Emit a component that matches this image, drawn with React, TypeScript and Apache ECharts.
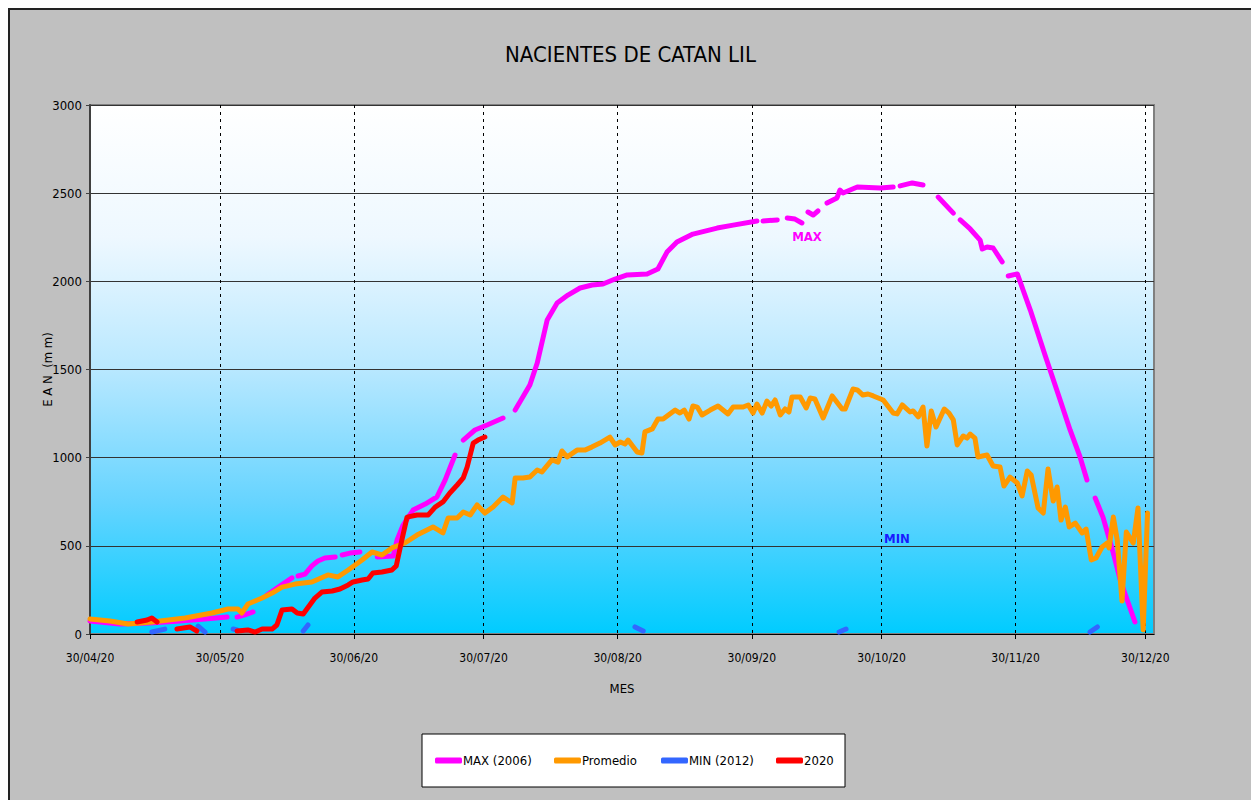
import React, { useEffect, useRef } from "react";
import * as echarts from "echarts";

const FONT = "'Liberation Sans Narrow', 'Arial Narrow', 'DejaVu Sans Condensed', Arial, sans-serif";

const TITLE = "NACIENTES DE CATAN LIL";
const X_NAME = "MES";
const Y_NAME = "E A N  (m m)";
const NAMES = ["MAX (2006)", "Promedio", "MIN (2012)", "2020"];
const COLORS = ["#FF00FF", "#FF9900", "#3366FF", "#FF0000"];

// x axis: days counted from 30/04/20 up to 01/01/21
const AXIS_START_UTC = Date.UTC(2020, 3, 30);
const AXIS_DAYS = 246;
const Y_MIN = 0;
const Y_MAX = 3000;
const Y_STEP = 500;

// each series: segments of [day offset from 30/04/20, EAN mm]; gaps = missing data
const MAX_2006: number[][][] = [
  [[0, 74], [6.9, 57], [13.9, 62], [20.8, 74], [26.6, 85], [31.7, 96]],
  [[34.0, 96], [35.8, 108], [37.7, 125]],
  [[40.9, 221], [43.9, 272], [46.7, 318]],
  [[48.1, 329], [49.7, 340], [51.3, 386], [52.7, 414], [54.3, 431], [56.7, 437]],
  [[58.3, 448], [60.1, 459], [62.4, 465]],
  [[66.4, 437], [70.1, 442], [71.0, 533], [72.4, 618], [74.7, 703], [77.5, 737], [80.2, 777], [82.1, 873], [84.4, 1015]],
  [[86.3, 1100], [89.0, 1157], [91.8, 1185], [95.5, 1225]],
  [[98.3, 1270], [101.7, 1412], [103.4, 1537], [105.7, 1781], [108.0, 1877], [110.5, 1922], [113.3, 1962], [116.1, 1979],
   [118.6, 1985], [121.4, 2013], [124.2, 2036], [128.8, 2042], [131.3, 2070], [133.4, 2166], [135.7, 2223], [139.4, 2268],
   [145.0, 2302], [148.7, 2319], [154.2, 2342]],
  [[155.6, 2342], [158.9, 2348]],
  [[161.2, 2359], [163.0, 2353], [164.6, 2331]],
  [[166.0, 2393], [167.2, 2376], [168.3, 2399]],
  [[170.4, 2444], [172.7, 2473], [173.4, 2518], [174.1, 2501], [177.4, 2535], [182.7, 2529], [185.7, 2535]],
  [[187.3, 2541], [190.1, 2558], [192.6, 2546]],
  [[196.1, 2478], [199.6, 2387]],
  [[201.2, 2348], [203.5, 2297], [205.8, 2234], [206.3, 2183], [207.4, 2195], [208.8, 2189], [210.9, 2110]],
  [[212.3, 2030], [214.4, 2042], [217.4, 1837], [220.8, 1582], [224.3, 1327], [226.6, 1157], [228.9, 1004], [230.5, 873]],
  [[232.4, 771], [234.2, 663], [236.6, 459], [238.2, 306], [239.8, 193], [241.6, 68]],
];

const PROMEDIO: number[][][] = [
  [[0, 85], [4.6, 74], [8.8, 57], [14.3, 68], [22.0, 91], [28.2, 119], [31.9, 142], [34.2, 142], [35.1, 119], [36.5, 170],
   [39.8, 204], [42.1, 232], [44.4, 266], [47.4, 283], [51.3, 295], [55.0, 335], [57.3, 323], [59.7, 363], [62.9, 420],
   [65.2, 465], [67.5, 448], [69.8, 488], [72.8, 516], [75.6, 561], [79.3, 607], [81.6, 573], [82.8, 658], [84.9, 658],
   [86.3, 692], [87.9, 675], [89.5, 732], [91.3, 686], [93.2, 720], [95.5, 777], [97.6, 743], [98.3, 885], [100.1, 885],
   [101.7, 890], [103.4, 930], [104.5, 919], [106.8, 987], [108.2, 975], [109.1, 1038], [110.3, 1004], [112.6, 1043],
   [114.4, 1043], [116.0, 1060], [117.9, 1083], [120.2, 1117], [121.4, 1072], [122.6, 1089], [123.7, 1077], [124.4, 1100],
   [126.5, 1032], [127.6, 1026], [128.3, 1146], [130.0, 1163], [131.3, 1219], [132.5, 1219], [135.3, 1270], [136.4, 1253],
   [137.4, 1270], [138.5, 1219], [139.4, 1293], [140.4, 1287], [141.5, 1242], [143.4, 1270], [145.2, 1293], [147.5, 1248],
   [148.7, 1287], [151.0, 1287], [152.2, 1299], [153.3, 1253], [154.2, 1304], [155.4, 1253], [156.5, 1321], [157.5, 1293],
   [158.4, 1327], [159.6, 1242], [160.7, 1276], [161.6, 1259], [162.3, 1344], [164.2, 1344], [165.6, 1282], [166.5, 1338],
   [167.6, 1333], [169.5, 1225], [171.6, 1350], [173.9, 1276], [174.6, 1276], [176.4, 1389], [177.4, 1384], [178.7, 1355],
   [179.9, 1361], [181.1, 1350], [183.4, 1327], [185.7, 1253], [186.6, 1248], [187.8, 1299], [189.6, 1259], [190.3, 1265],
   [191.5, 1231], [192.6, 1287], [193.5, 1066], [194.5, 1265], [195.6, 1174], [197.5, 1276], [198.6, 1253], [199.6, 1214],
   [200.5, 1072], [201.9, 1123], [202.8, 1111], [203.5, 1134], [204.6, 1111], [205.3, 1004], [207.4, 1015], [208.8, 953],
   [210.4, 947], [211.3, 839], [212.7, 890], [214.4, 856], [215.5, 783], [216.7, 924], [217.6, 902], [219.2, 715],
   [220.4, 686], [221.5, 936], [222.7, 754], [223.6, 834], [224.5, 646], [225.5, 720], [226.4, 607], [227.8, 629],
   [229.4, 573], [230.3, 595], [231.5, 420], [232.6, 431], [234.0, 493], [235.2, 516], [235.6, 488], [236.6, 663],
   [237.5, 533], [238.6, 187], [239.6, 578], [241.2, 516], [242.3, 715], [243.5, 23], [244.5, 686]],
];

const MIN_2012: number[][][] = [
  [[14.3, 11], [17.3, 28]],
  [[25.0, 45], [26.6, 11]],
  [[33.1, 28], [34.0, 23]],
  [[49.3, 17], [50.4, 51]],
  [[126.0, 40], [127.9, 17]],
  [[173.2, 11], [174.8, 28]],
  [[231.2, 11], [232.9, 40]],
];

const Y2020: number[][][] = [
  [[10.9, 68], [13.2, 79], [14.3, 91], [15.5, 68]],
  [[20.1, 28], [23.1, 40], [24.7, 17]],
  [[34.0, 17], [36.5, 23], [38.2, 11], [39.8, 28], [42.1, 28], [43.2, 51], [44.4, 136], [46.7, 142], [47.9, 119],
   [49.3, 113], [52.0, 204], [53.6, 238], [56.0, 244], [57.8, 255], [59.7, 278], [60.8, 295], [62.9, 306], [64.3, 312],
   [65.4, 346], [67.5, 352], [69.8, 363], [70.8, 386], [72.1, 533], [73.3, 663], [75.6, 675], [78.2, 675], [79.8, 720],
   [81.6, 749], [83.2, 800], [84.9, 845], [86.3, 885], [87.2, 947], [88.6, 1083], [89.7, 1100], [91.3, 1117]],
];

const SERIES_SEGMENTS = [MAX_2006, PROMEDIO, MIN_2012, Y2020];

function pad2(n: number) {
  return n < 10 ? "0" + n : String(n);
}

const DATE_LABELS: string[] = Array.from({ length: AXIS_DAYS + 1 }, (_, i) => {
  const d = new Date(AXIS_START_UTC + i * 86400000);
  return `${pad2(d.getUTCDate())}/${pad2(d.getUTCMonth() + 1)}/${String(d.getUTCFullYear()).slice(2)}`;
});

function joinSegments(segs: number[][][]) {
  const out: (number | null)[][] = [];
  segs.forEach((seg, i) => {
    if (i > 0) out.push([seg[0][0] - 0.05, null]);
    seg.forEach((p) => out.push([p[0], p[1]]));
  });
  return out;
}

const isMonthTick = (_i: number, v: string) => typeof v === "string" && v.startsWith("30/");

export default function App() {
  const ref = useRef<HTMLDivElement>(null);

  useEffect(() => {
    if (!ref.current) return;
    const chart = echarts.init(ref.current, undefined, { renderer: "svg" });
    const txt = { fontFamily: FONT, color: "#000" };
    const legendLefts = [425, 544, 651, 766];
    const option: any = {
      animation: false,
      backgroundColor: "#C0C0C0",
      title: {
        text: TITLE,
        left: "center",
        top: 28,
        textStyle: { ...txt, fontSize: 22, fontWeight: "normal" },
      },
      grid: {
        left: 80,
        top: 95,
        width: 1064,
        height: 529,
        show: true,
        borderColor: "#808080",
        borderWidth: 2,
        backgroundColor: new echarts.graphic.LinearGradient(0, 0, 0, 1, [
          { offset: 0, color: "#FFFFFF" },
          { offset: 0.25, color: "#EEF8FF" },
          { offset: 0.5, color: "#B8E8FF" },
          { offset: 0.75, color: "#66D4FF" },
          { offset: 1, color: "#00CCFF" },
        ]),
      },
      xAxis: [
        {
          type: "category",
          data: DATE_LABELS,
          boundaryGap: false,
          name: X_NAME,
          nameLocation: "middle",
          nameGap: 48,
          nameMoveOverlap: false,
          nameTextStyle: { ...txt, fontSize: 13 },
          axisLine: { show: true, lineStyle: { color: "#000", width: 1 } },
          axisTick: { show: true, interval: isMonthTick, length: 5, lineStyle: { color: "#000" } },
          axisLabel: { interval: isMonthTick, margin: 18, ...txt, fontSize: 12 },
          splitLine: { show: true, interval: isMonthTick, lineStyle: { color: "#000", width: 1, type: [3, 4] } },
        },
        { type: "value", min: 0, max: AXIS_DAYS, show: false, position: "top" },
      ],
      yAxis: {
        type: "value",
        min: Y_MIN,
        max: Y_MAX,
        interval: Y_STEP,
        name: Y_NAME,
        nameLocation: "middle",
        nameGap: 36,
        nameMoveOverlap: false,
        nameRotate: 90,
        nameTextStyle: { ...txt, fontSize: 13 },
        axisLine: { show: true, lineStyle: { color: "#404040", width: 2 } },
        axisTick: { show: true, length: 4, lineStyle: { color: "#404040" } },
        axisLabel: { margin: 8, ...txt, fontSize: 13, formatter: (v: number) => String(v) },
        splitLine: { show: true, lineStyle: { color: "#333", width: 1 } },
      },
      legend: NAMES.map((n, i) => ({
        data: [n],
        left: legendLefts[i],
        top: 744,
        padding: 0,
        icon: "roundRect",
        itemWidth: 27,
        itemHeight: 6,
        textStyle: { ...txt, fontSize: 13, padding: [0, 0, 0, -4] },
      })),
      graphic: [
        {
          type: "rect",
          z: 1,
          shape: { x: 412, y: 724, width: 423, height: 53 },
          style: { fill: "#FFFFFF", stroke: "#000", lineWidth: 1 },
        },
        {
          type: "text",
          z: 100,
          x: 797,
          y: 226,
          style: { text: "MAX", fill: "#FF00FF", font: `bold 13px ${FONT}`, align: "center", verticalAlign: "middle" },
        },
        {
          type: "text",
          z: 100,
          x: 887,
          y: 528,
          style: { text: "MIN", fill: "#1A1AFF", font: `bold 13px ${FONT}`, align: "center", verticalAlign: "middle" },
        },
      ],
      series: SERIES_SEGMENTS.map((segs, i) => ({
        name: NAMES[i],
        type: "line",
        xAxisIndex: 1,
        data: joinSegments(segs),
        showSymbol: false,
        symbol: "none",
        connectNulls: false,
        color: COLORS[i],
        lineStyle: { color: COLORS[i], width: 5, cap: "round", join: "round" },
      })),
    };
    chart.setOption(option);
    return () => chart.dispose();
  }, []);

  return (
    <div
      style={{
        position: "fixed",
        left: 8,
        top: 8,
        width: 1243,
        height: 792,
        boxSizing: "border-box",
        borderTop: "2px solid #222",
        borderLeft: "2px solid #222",
        background: "#C0C0C0",
      }}
    >
      <div ref={ref} style={{ width: 1241, height: 790 }} />
    </div>
  );
}
